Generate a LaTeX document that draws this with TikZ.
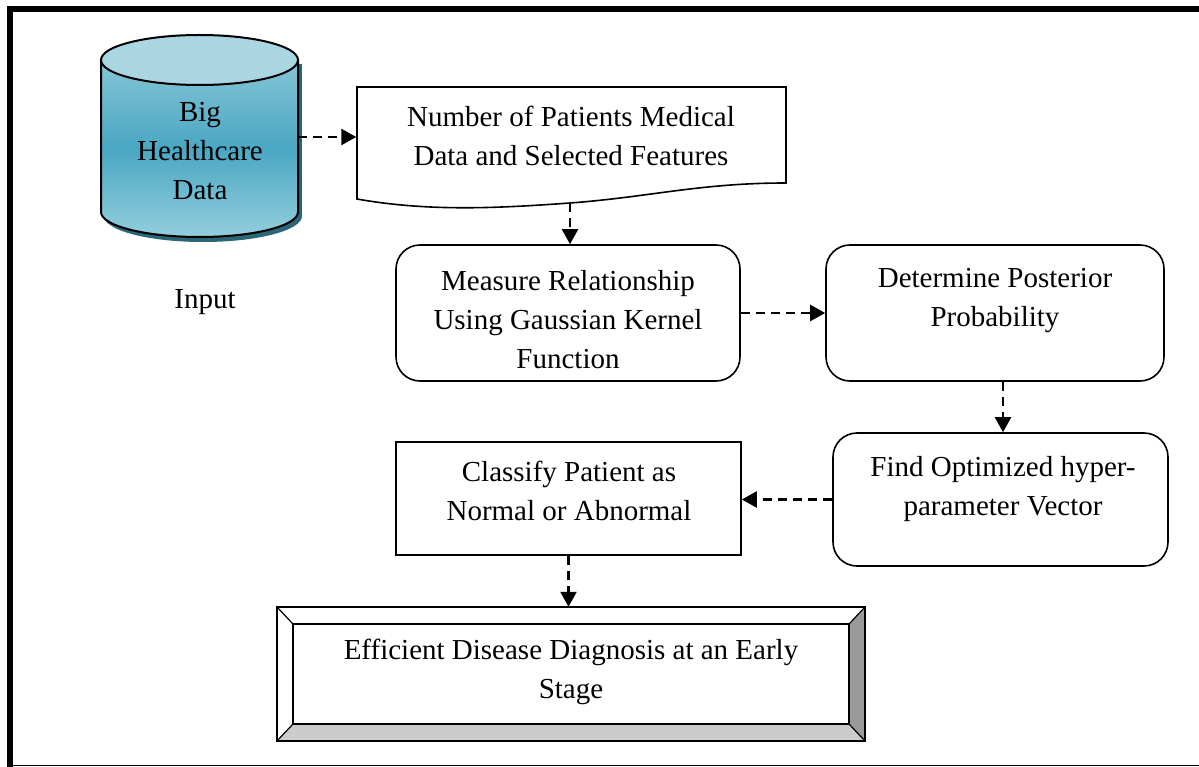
\documentclass[tikz,border=0pt]{standalone}
\usepackage{fontspec}
\setmainfont{Liberation Serif}
\usetikzlibrary{arrows.meta}
\definecolor{cyltop}{HTML}{A9D6E2}
\definecolor{cylhi}{HTML}{86C5D6}
\definecolor{cylmid}{HTML}{4AA7C3}
\definecolor{cyllo}{HTML}{93CEDC}
\definecolor{cylshadow}{HTML}{2B6677}
\definecolor{bevdark}{HTML}{9A9A9A}
\definecolor{bevlight}{HTML}{CCCCCC}
\begin{document}
\begin{tikzpicture}[x=1pt,y=-1pt,
  txt/.style={font=\fontsize{29}{39}\selectfont, align=center, inner sep=0pt},
  flow/.style={line width=2.3pt, dash pattern=on 9pt off 6pt,
    -{Triangle[length=15pt,width=16pt]}},
  rbox/.style={draw, line width=1.6pt, rounded corners=24pt, inner sep=0pt},
  sbox/.style={draw, line width=1.6pt, inner sep=0pt}]
\useasboundingbox (0,0) rectangle (1199,767);
\fill[white] (0,0) rectangle (1199,767);

% outer frame
\draw[line width=6pt] (10,767) -- (10,9) -- (1199,9);
\draw[line width=1.2pt] (10,765.5) -- (1199,765.5);

% database cylinder
\fill[cylshadow] (104,64) rectangle (302,216);
\fill[cylshadow] (203,216) ellipse [x radius=99, y radius=26];
\draw[line width=2pt, top color=cylhi, bottom color=cyllo, middle color=cylmid]
  (101,60) -- (101,212)
  .. controls (101,225.8) and (145.1,237) .. (199.5,237)
  .. controls (253.9,237) and (298,225.8) .. (298,212)
  -- (298,60) -- cycle;
\draw[line width=2pt, fill=cyltop] (199.5,60) ellipse [x radius=98.5, y radius=25];
\node[txt] (db) at (200,151) {Big\\Healthcare\\Data};
\coordinate (dbr) at (298,137);
\node[txt] (input) at (205,302) {Input};

% document shape
\draw[line width=1.6pt, fill=white] (357,87) -- (786,87) -- (786,183)
  .. controls (700,183) and (650,197) .. (570,203)
  .. controls (500,208) and (430,212) .. (357,199) -- cycle;
\node[txt, minimum width=429pt] (doc) at (571,136)
  {Number of Patients Medical\\Data and Selected Features};
\coordinate (docb) at (570,203);

% process boxes
\node[rbox, minimum width=344pt, minimum height=136pt] (meas) at (568,313) {};
\node[txt] (meast) at (568,320)
  {Measure Relationship\\Using Gaussian Kernel\\Function};
\node[rbox, minimum width=338pt, minimum height=136pt] (det) at (995,313) {};
\node[txt] (dett) at (995,300.5) {Determine Posterior\\Probability};
\node[rbox, minimum width=335pt, minimum height=133pt] (find) at (1000.5,499.5) {};
\node[txt] (findt) at (1003,489.5) {Find Optimized hyper-\\parameter Vector};
\node[sbox, minimum width=345pt, minimum height=113pt] (cls) at (568.5,498.5) {};
\node[txt] (clst) at (569,490.5) {Classify Patient as\\Normal or Abnormal};

% bevelled result box
\node[minimum width=588pt, minimum height=134pt, inner sep=0pt] (effo) at (571,674) {};
\fill[bevdark] (865,607) -- (865,741) -- (849,724) -- (849,624) -- cycle;
\fill[bevlight] (277,741) -- (865,741) -- (849,724) -- (293,724) -- cycle;
\draw[line width=1.2pt] (277,607) -- (293,624) (865,607) -- (849,624)
  (277,741) -- (293,724) (865,741) -- (849,724);
\draw[line width=2pt] (277,607) rectangle (865,741);
\draw[line width=2pt] (293,624) rectangle (849,724);
\node[txt] (eff) at (571,671.5) {Efficient Disease Diagnosis at an Early\\Stage};

% connectors
\draw[flow] (dbr) -- (dbr -| doc.west);
\draw[flow] (docb) -- (docb |- meas.north);
\draw[flow] (meas.east) -- (det.west);
\draw[flow] (findt |- det.south) -- (findt |- find.north);
\draw[flow] (find.west) -- (find.west -| cls.east);
\draw[flow] (cls.south) -- (cls.south |- effo.north);
\end{tikzpicture}
\end{document}
